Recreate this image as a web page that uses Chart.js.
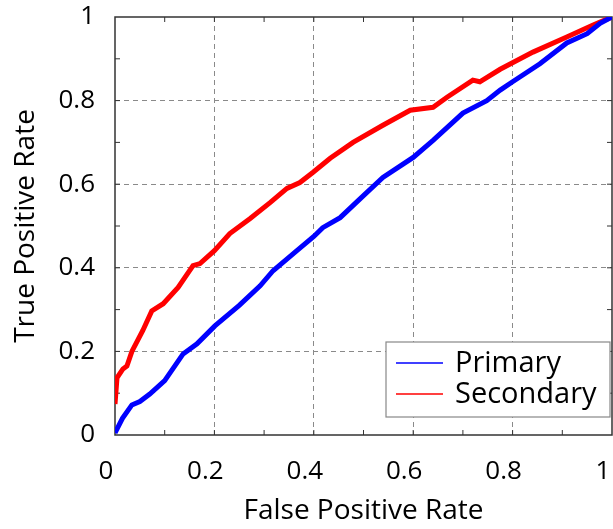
<!DOCTYPE html>
<html>
<head>
<meta charset="utf-8">
<script src="https://cdn.jsdelivr.net/npm/chart.js@4"></script>
<style>
  body { margin: 0; background: #fff; }
  canvas { display: block; }
</style>
</head>
<body>
<canvas id="roc" width="613" height="529"></canvas>
<script>
// ROC curves
const primaryFpr = [0, 0.015, 0.034, 0.05, 0.07, 0.1, 0.137, 0.165, 0.201, 0.25, 0.292, 0.318, 0.366, 0.4, 0.418, 0.453, 0.493, 0.539, 0.6, 0.64, 0.7, 0.748, 0.775, 0.8, 0.855, 0.909, 0.95, 0.976, 1];
const primaryTpr = [0.005, 0.04, 0.072, 0.08, 0.098, 0.13, 0.194, 0.218, 0.261, 0.31, 0.357, 0.393, 0.441, 0.475, 0.496, 0.52, 0.565, 0.616, 0.664, 0.705, 0.77, 0.8, 0.825, 0.845, 0.888, 0.938, 0.96, 0.985, 1];

const secondaryFpr = [0, 0.004, 0.016, 0.024, 0.034, 0.056, 0.074, 0.097, 0.127, 0.157, 0.171, 0.2, 0.231, 0.272, 0.312, 0.346, 0.372, 0.398, 0.433, 0.479, 0.539, 0.594, 0.64, 0.668, 0.72, 0.734, 0.775, 0.841, 0.909, 0.962, 1];
const secondaryTpr = [0.074, 0.137, 0.158, 0.165, 0.2, 0.25, 0.297, 0.314, 0.353, 0.405, 0.41, 0.441, 0.482, 0.518, 0.556, 0.59, 0.604, 0.628, 0.662, 0.7, 0.741, 0.777, 0.784, 0.808, 0.849, 0.845, 0.875, 0.916, 0.952, 0.981, 1];

const seriesNames = ['Primary', 'Secondary'];
const xTitle = 'False Positive Rate';
const yTitle = 'True Positive Rate';

const FONT = '"Open Sans", sans-serif';

function toPoints(xs, ys) {
    return xs.map((x, i) => ({ x: x, y: ys[i] }));
}

function tickText(v) {
    if (v === 0) return '0';
    if (v === 1) return '1';
    return v.toFixed(1);
}

// frame plus small inward ticks every 0.1, drawn under the curves
const framePlugin = {
    id: 'frame',
    beforeDatasetsDraw(chart) {
        const { ctx, chartArea: a, scales } = chart;
        ctx.save();
        ctx.strokeStyle = '#333';
        ctx.lineWidth = 1.5;
        ctx.setLineDash([]);
        ctx.strokeRect(a.left, a.top, a.right - a.left, a.bottom - a.top);
        ctx.lineWidth = 1;
        ctx.beginPath();
        for (let i = 1; i < 10; i++) {
            const px = scales.x.getPixelForValue(i / 10);
            const py = scales.y.getPixelForValue(i / 10);
            ctx.moveTo(px, a.bottom); ctx.lineTo(px, a.bottom - 5);
            ctx.moveTo(px, a.top); ctx.lineTo(px, a.top + 5);
            ctx.moveTo(a.left, py); ctx.lineTo(a.left + 5, py);
            ctx.moveTo(a.right, py); ctx.lineTo(a.right - 5, py);
        }
        ctx.stroke();
        ctx.restore();
    }
};

// boxed legend in the lower right corner of the plot
const boxLegend = {
    id: 'boxLegend',
    afterDraw(chart) {
        const { ctx, chartArea: a } = chart;
        const left = a.right - 226, right = a.right - 2;
        const top = a.bottom - 93, bottom = a.bottom - 18;
        ctx.save();
        ctx.fillStyle = '#fff';
        ctx.fillRect(left, top, right - left, bottom - top);
        ctx.strokeStyle = '#888';
        ctx.lineWidth = 1.2;
        ctx.strokeRect(left, top, right - left, bottom - top);
        ctx.font = '29px ' + FONT;
        ctx.textBaseline = 'middle';
        ctx.fillStyle = '#000';
        chart.data.datasets.forEach((ds, i) => {
            const y = top + 21 + i * 31;
            ctx.strokeStyle = ds.borderColor;
            ctx.lineWidth = 1.6;
            ctx.beginPath();
            ctx.moveTo(left + 10, y);
            ctx.lineTo(left + 57, y);
            ctx.stroke();
            ctx.fillText(ds.label, left + 69, y + 1);
        });
        ctx.restore();
    }
};

function zeroPad(scale) {
    scale.paddingLeft = 0;
    scale.paddingRight = 0;
    scale.paddingTop = 0;
    scale.paddingBottom = 0;
}

new Chart(document.getElementById('roc'), {
    type: 'scatter',
    data: {
        datasets: [
            {
                label: seriesNames[0],
                data: toPoints(primaryFpr, primaryTpr),
                borderColor: '#0000ff',
                backgroundColor: '#0000ff',
                borderWidth: 5,
                showLine: true,
                pointRadius: 0,
                tension: 0,
            },
            {
                label: seriesNames[1],
                data: toPoints(secondaryFpr, secondaryTpr),
                borderColor: '#ff0000',
                backgroundColor: '#ff0000',
                borderWidth: 5,
                showLine: true,
                pointRadius: 0,
                tension: 0,
            },
        ],
    },
    options: {
        responsive: false,
        animation: false,
        layout: { padding: { top: 17, right: 1, left: 0, bottom: 0 } },
        plugins: {
            legend: { display: false },
            tooltip: { enabled: false },
        },
        scales: {
            x: {
                type: 'linear',
                min: 0,
                max: 1,
                afterFit(scale) { scale.height = 94; zeroPad(scale); },
                ticks: {
                    stepSize: 0.2,
                    padding: 21,
                    labelOffset: -9,
                    color: '#000',
                    font: { family: FONT, size: 26 },
                    callback: tickText,
                },
                grid: {
                    color: ctx => (ctx.tick && (ctx.tick.value === 0 || ctx.tick.value === 1)) ? 'rgba(0,0,0,0)' : '#8a8a8a',
                    lineWidth: 1,
                    drawTicks: false,
                },
                border: { display: false, dash: [5, 4] },
                title: {
                    display: true,
                    text: xTitle,
                    color: '#000',
                    font: { family: FONT, size: 28 },
                    padding: { top: 0, bottom: 1 },
                },
            },
            y: {
                type: 'linear',
                min: 0,
                max: 1,
                afterFit(scale) { scale.width = 115; zeroPad(scale); },
                ticks: {
                    stepSize: 0.2,
                    padding: 20,
                    color: '#000',
                    font: { family: FONT, size: 26 },
                    callback: tickText,
                },
                grid: {
                    color: ctx => (ctx.tick && (ctx.tick.value === 0 || ctx.tick.value === 1)) ? 'rgba(0,0,0,0)' : '#8a8a8a',
                    lineWidth: 1,
                    drawTicks: false,
                },
                border: { display: false, dash: [5, 4] },
                title: {
                    display: true,
                    text: yTitle,
                    color: '#000',
                    font: { family: FONT, size: 28 },
                    padding: { top: 9, bottom: 0 },
                },
            },
        },
    },
    plugins: [framePlugin, boxLegend],
});
</script>
</body>
</html>
